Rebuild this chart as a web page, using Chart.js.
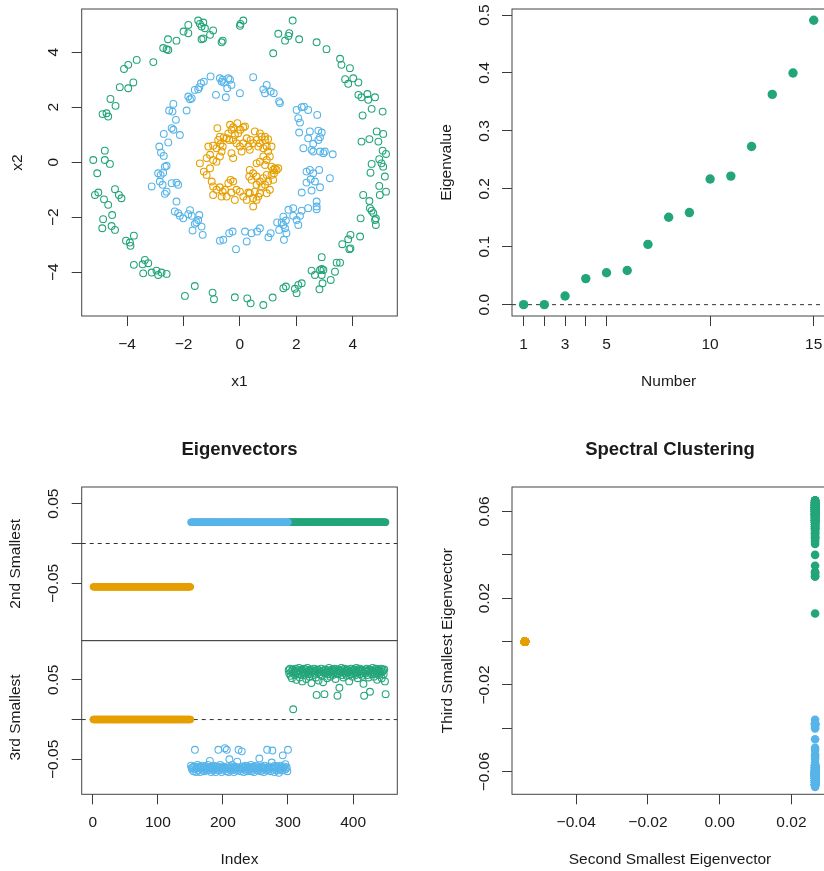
<!DOCTYPE html>
<html>
<head>
<meta charset="utf-8">
<script src="https://cdn.jsdelivr.net/npm/chart.js@4.4.0/dist/chart.umd.min.js"></script>
<style>
  html, body { margin: 0; padding: 0; background: #fff; overflow: hidden; }
  body { width: 824px; height: 871px; position: relative; }
  canvas { position: absolute; }
</style>
</head>
<body>
<canvas id="rings" width="400" height="400" style="left:0;top:0"></canvas>
<canvas id="eigval" width="420" height="400" style="left:412px;top:0"></canvas>
<canvas id="vec2" width="400" height="211" style="left:0;top:430px"></canvas>
<canvas id="vec3" width="400" height="231" style="left:0;top:640px"></canvas>
<canvas id="spectral" width="420" height="441" style="left:412px;top:430px"></canvas>
<script>
// --- data ---
const greenRing = [
  [-1.48,5.15],[-1.42,5.03],[-1.30,5.08],[-1.36,4.93],[-1.24,4.87],[-1.83,4.99],[-2.00,4.75],[-1.83,4.69],[-0.95,4.79],[-1.06,4.63],
  [-1.30,4.50],[-1.36,4.47],[-0.61,4.42],[-0.65,4.36],[0.02,5.03],[0.12,5.15],[0.00,4.96],[-2.25,4.42],[-2.55,4.47],[-2.72,4.15],
  [-2.60,4.11],[-2.54,4.08],[-3.07,3.64],[-3.66,3.72],[-3.96,3.54],[-4.11,3.39],[-3.78,2.90],[-3.96,2.69],[-4.26,2.73],[-4.59,2.30],
  [-4.41,2.05],[-4.87,1.75],[-4.73,1.78],[-4.67,1.66],[-4.79,0.42],[-4.79,0.08],[-4.61,-0.06],[-5.20,0.08],[-5.06,-0.40],[-5.14,-1.19],
  [-5.02,-1.10],[-4.43,-0.98],[-4.29,-1.19],[-4.20,-1.31],[-4.82,-1.35],[-4.67,-1.55],[-4.53,-1.92],[-4.85,-2.07],[-4.88,-2.40],[-4.55,-2.32],
  [-4.43,-2.46],[-4.04,-2.85],[-3.76,-2.67],[-3.88,-3.04],[-3.90,-2.92],[-3.76,-3.73],[-3.37,-3.55],[-3.45,-3.71],[-3.25,-3.67],[-3.43,-4.04],
  [-3.13,-4.01],[-2.96,-3.94],[-2.90,-4.10],[-2.78,-4.01],[-2.60,-4.06],[-1.60,-4.50],[-1.95,-4.86],[-0.97,-4.74],[-0.92,-4.98],[-0.18,-4.91],
  [0.26,-4.95],[0.38,-5.13],[0.83,-5.19],[1.16,-4.92],[1.54,-4.58],[1.63,-4.52],[1.95,-4.60],[2.01,-4.76],[2.07,-4.46],[2.19,-4.40],
  [2.54,-3.94],[2.66,-4.10],[2.82,-4.62],[2.84,-3.92],[2.90,-3.88],[2.96,-3.92],[2.90,-4.10],[2.93,-4.40],[2.90,-3.45],[3.22,-4.28],
  [3.37,-3.98],[3.43,-3.65],[3.55,-3.65],[3.63,-2.98],[3.84,-2.80],[3.92,-2.64],[3.88,-3.16],[3.92,-3.13],[4.26,-2.70],[4.28,-2.04],
  [4.37,-1.19],[4.59,-1.41],[4.61,-1.67],[4.67,-1.76],[4.73,-1.85],[4.82,-2.04],[4.79,-2.10],[4.82,-2.28],[4.94,-0.86],[4.96,-1.19],
  [5.18,-1.07],[4.67,-0.06],[4.63,-0.38],[4.94,0.11],[5.02,-0.04],[5.08,-0.16],[5.14,-0.52],[5.18,0.30],[5.06,0.42],[4.31,0.75],
  [4.59,0.84],[4.85,1.12],[4.91,0.75],[5.08,1.03],[4.35,1.70],[4.67,1.94],[5.06,1.84],[4.20,2.45],[4.31,2.36],[4.52,2.48],
  [4.79,2.36],[4.55,2.27],[3.73,3.02],[3.84,2.85],[4.02,3.05],[4.20,2.90],[3.55,3.76],[3.60,3.54],[3.90,3.42],[3.07,4.11],
  [2.72,4.36],[2.10,4.47],[1.75,4.69],[1.60,4.42],[1.72,4.59],[1.36,4.67],[1.87,5.15],[1.18,3.96]
];
const blueRing = [
  [-1.04,3.12],[-1.28,2.93],[-1.38,2.87],[-1.44,2.73],[-1.48,2.65],[-1.60,2.63],[-0.65,2.93],[-0.71,3.05],[-0.61,3.00],[-0.57,2.90],
  [-0.41,3.05],[-0.35,3.00],[-0.30,2.81],[-0.45,2.69],[-0.50,2.36],[-0.85,2.45],[0.00,2.51],[0.47,3.09],[0.83,2.65],[0.95,2.81],
  [0.89,2.51],[1.09,2.57],[1.20,2.51],[1.39,2.21],[1.42,2.15],[-1.83,2.39],[-1.77,2.29],[-1.71,2.33],[-2.36,2.12],[-2.51,1.88],
  [-2.39,1.84],[-2.27,1.54],[-1.89,1.88],[-2.42,1.24],[-2.36,1.18],[-2.70,1.03],[-2.13,0.99],[-2.54,0.72],[-2.86,0.57],[-2.80,0.35],
  [-2.70,0.23],[-2.60,-0.13],[-2.66,-0.16],[-2.90,-0.40],[-2.81,-0.46],[-2.84,-0.70],[-2.72,-0.38],[-2.74,-0.82],[-3.13,-0.88],[-2.42,-0.76],
  [-2.25,-0.74],[-2.19,-0.82],[-2.60,-1.07],[-2.66,-1.15],[-2.25,-1.43],[-2.31,-1.79],[-2.19,-1.85],[-2.13,-1.95],[-2.01,-2.04],[-1.83,-1.89],
  [-1.77,-1.74],[-1.71,-1.95],[-1.44,-1.92],[-1.48,-2.10],[-1.60,-2.24],[-1.54,-2.19],[-1.36,-2.34],[-1.32,-2.64],[-1.68,-2.48],[-0.71,-2.85],
  [-0.59,-2.82],[-0.38,-2.58],[-0.26,-2.52],[-0.14,-3.16],[0.18,-2.52],[0.24,-2.88],[0.41,-2.58],[0.61,-2.52],[0.71,-2.40],[1.01,-2.73],
  [1.09,-2.58],[1.39,-2.46],[1.32,-2.19],[1.54,-1.98],[1.63,-2.12],[1.54,-2.28],[1.60,-2.40],[1.65,-2.58],[1.56,-2.82],[1.48,-2.19],
  [1.72,-1.73],[1.89,-1.67],[1.89,-1.95],[2.01,-2.10],[2.07,-2.28],[2.13,-1.95],[2.19,-1.76],[2.42,-1.67],[2.72,-1.43],[2.72,-1.61],
  [2.72,-1.71],[2.19,-1.10],[2.36,-0.74],[2.54,-1.03],[2.66,-0.70],[2.84,-0.91],[3.19,-0.58],[2.36,-0.34],[2.48,-0.28],[2.60,-0.40],
  [2.81,-0.28],[2.51,-0.62],[2.25,0.51],[2.54,0.45],[2.60,0.39],[2.84,0.39],[2.96,0.33],[3.01,0.39],[3.29,0.29],[2.60,0.67],
  [2.78,0.81],[2.84,0.91],[2.90,1.08],[2.42,0.87],[2.48,1.12],[2.78,1.15],[2.10,1.08],[2.13,1.44],[2.07,1.60],[2.01,1.90],
  [2.19,2.00],[2.27,2.02],[2.42,1.90],[2.74,1.72]
];
const orangeCore = [
  [-0.80,1.24],[-0.71,0.93],[-0.77,0.81],[-0.69,0.66],[-0.61,0.57],[-0.83,0.51],[-0.95,0.60],[-1.12,0.57],[-1.06,0.27],[-1.18,0.15],
  [-1.42,-0.04],[-1.28,-0.34],[-1.18,-0.46],[-1.06,-0.22],[-0.95,0.08],[-0.83,0.02],[-0.71,0.21],[-0.65,0.39],[-1.00,-0.70],[-0.95,-0.88],
  [-0.95,-1.19],[-0.83,-1.00],[-0.71,-0.91],[-0.61,-1.07],[-0.65,-1.25],[-0.47,-1.25],[-0.53,-1.00],[-0.41,-0.76],[-0.33,-0.64],[-0.24,-0.70],
  [-0.12,-1.00],[-0.30,-1.10],[-0.18,-1.37],[0.00,-1.07],[0.12,-1.25],[0.24,-1.37],[0.35,-1.13],[0.47,-1.31],[0.59,-1.37],[0.65,-1.25],
  [0.47,-1.61],[0.30,-1.10],[0.35,-0.28],[0.47,-0.40],[0.33,-0.52],[0.41,-0.64],[0.59,-0.52],[0.71,-0.70],[0.83,-0.58],[0.95,-0.46],
  [0.89,-0.82],[0.77,-0.88],[0.59,-0.82],[0.53,-1.07],[0.71,-1.13],[0.95,-1.13],[1.06,-1.00],[1.00,-0.70],[1.12,-0.16],[1.18,-0.28],
  [1.24,-0.22],[1.30,-0.28],[1.21,-0.40],[1.36,-0.22],[1.18,-0.64],[1.12,-0.46],[0.59,-0.04],[0.71,0.02],[0.83,0.21],[0.95,0.08],
  [0.89,-0.10],[1.06,0.21],[1.00,0.39],[0.95,0.57],[1.12,0.57],[0.83,0.51],[0.71,0.69],[0.59,0.81],[0.77,0.93],[0.89,0.81],
  [0.65,0.57],[0.53,1.12],[0.71,1.05],[0.89,0.93],[1.00,0.84],[0.47,0.69],[0.35,0.45],[0.38,0.81],[0.24,0.87],[0.12,0.69],
  [0.30,0.57],[-0.24,1.27],[-0.09,1.42],[0.02,1.18],[0.12,1.27],[0.18,1.30],[-0.06,1.05],[-0.18,0.99],[-0.35,1.36],[-0.30,1.18],
  [-0.41,1.05],[-0.47,0.87],[-0.24,0.81],[-0.12,0.69],[0.00,0.57],[0.06,0.39],[-0.30,0.33],[-0.24,0.15],[-0.38,0.81],[-0.57,0.90]
];

const eigNumber = [1, 2, 3, 4, 5, 6, 7, 8, 9, 10, 11, 12, 13, 14, 15];
const eigValue = [0, 0, 0.015, 0.045, 0.055, 0.059, 0.104, 0.151, 0.159, 0.217, 0.222, 0.273, 0.363, 0.400, 0.491];

// eigenvector entries: orange = obs 1-150, blue = 151-300, green = 301-450
const ev2Orange = Array(150).fill(-0.0543);
const ev2Blue = Array(150).fill(0.0266);
const ev2Green = Array(150).fill(0.0266);
const ev3Orange = Array(150).fill(0);
const ev3Blue = [
  -0.058,-0.061,-0.063,-0.060,-0.065,-0.059,-0.038,-0.062,-0.066,-0.060,
  -0.057,-0.064,-0.061,-0.059,-0.066,-0.062,-0.060,-0.058,-0.063,-0.061,
  -0.065,-0.060,-0.062,-0.059,-0.064,-0.061,-0.057,-0.063,-0.060,-0.052,
  -0.062,-0.066,-0.059,-0.061,-0.064,-0.058,-0.062,-0.060,-0.066,-0.063,
  -0.059,-0.061,-0.038,-0.064,-0.060,-0.057,-0.062,-0.066,-0.061,-0.059,
  -0.063,-0.060,-0.036,-0.062,-0.065,-0.038,-0.059,-0.061,-0.066,-0.050,
  -0.062,-0.064,-0.060,-0.057,-0.063,-0.061,-0.066,-0.059,-0.062,-0.060,
  -0.064,-0.053,-0.061,-0.038,-0.063,-0.060,-0.065,-0.062,-0.040,-0.059,
  -0.061,-0.066,-0.060,-0.063,-0.058,-0.062,-0.065,-0.059,-0.061,-0.064,
  -0.060,-0.062,-0.057,-0.065,-0.061,-0.063,-0.059,-0.066,-0.062,-0.060,
  -0.058,-0.063,-0.061,-0.064,-0.060,-0.049,-0.062,-0.065,-0.059,-0.061,
  -0.063,-0.060,-0.066,-0.058,-0.062,-0.061,-0.064,-0.038,-0.060,-0.063,
  -0.059,-0.062,-0.065,-0.061,-0.054,-0.039,-0.063,-0.060,-0.066,-0.058,
  -0.062,-0.060,-0.064,-0.059,-0.061,-0.067,-0.063,-0.058,-0.062,-0.060,
  -0.064,-0.045,-0.061,-0.059,-0.063,-0.056,-0.062,-0.060,-0.065,-0.038
];
const ev3Green = [
  0.062,0.058,0.064,0.055,0.060,0.052,0.063,0.013,0.059,0.061,
  0.056,0.064,0.050,0.060,0.062,0.057,0.065,0.053,0.061,0.059,
  0.063,0.048,0.060,0.056,0.064,0.058,0.062,0.051,0.060,0.065,
  0.057,0.061,0.054,0.063,0.059,0.046,0.062,0.060,0.056,0.064,
  0.058,0.061,0.053,0.031,0.063,0.059,0.049,0.062,0.057,0.060,
  0.064,0.055,0.061,0.047,0.059,0.032,0.063,0.058,0.060,0.052,
  0.062,0.057,0.065,0.060,0.054,0.061,0.059,0.063,0.056,0.062,
  0.060,0.064,0.051,0.058,0.062,0.030,0.057,0.063,0.040,0.061,
  0.059,0.065,0.056,0.062,0.053,0.060,0.064,0.058,0.061,0.055,
  0.063,0.059,0.062,0.048,0.060,0.057,0.064,0.061,0.054,0.062,
  0.058,0.063,0.060,0.056,0.065,0.059,0.052,0.062,0.060,0.064,
  0.057,0.061,0.063,0.055,0.059,0.045,0.030,0.062,0.058,0.060,
  0.064,0.056,0.061,0.053,0.063,0.035,0.059,0.062,0.057,0.065,
  0.060,0.054,0.062,0.058,0.064,0.061,0.050,0.059,0.063,0.056,
  0.061,0.059,0.064,0.052,0.060,0.062,0.057,0.063,0.048,0.032
];

// tick positions / labels
const ringTicks = [-4, -2, 0, 2, 4];
const ringLabels = ['\u22124', '\u22122', '0', '2', '4'];
const eigXTicks = [1, 2, 3, 4, 5, 10, 15];
const eigXLabels = ['1', '', '3', '', '5', '10', '15'];
const eigYTicks = [0, 0.1, 0.2, 0.3, 0.4, 0.5];
const eigYLabels = ['0.0', '0.1', '0.2', '0.3', '0.4', '0.5'];
const vecYTicks = [-0.05, 0, 0.05];
const vecYLabels = ['\u22120.05', '', '0.05'];
const indexTicks = [0, 100, 200, 300, 400];
const indexLabels = ['0', '100', '200', '300', '400'];
const specXTicks = [-0.04, -0.02, 0, 0.02];
const specXLabels = ['\u22120.04', '\u22120.02', '0.00', '0.02'];
const specYTicks = [-0.06, -0.04, -0.02, 0, 0.02, 0.04, 0.06];
const specYLabels = ['\u22120.06', '', '\u22120.02', '', '0.02', '', '0.06'];

// --- styling ---
const ORANGE = '#E69F00', BLUE = '#56B4E9', GREEN = '#23A57A';
const INK = '#1a1a1a', TICK = '#3a3a3a';
const FAMILY = "'Liberation Sans', Arial, Helvetica, sans-serif";
const FS = 15.5;

// box, dashed zero line and R-style rotated y labels
const rFrame = {
  id: 'rFrame',
  beforeDatasetsDraw(chart, args, opts) {
    if (opts.hline === undefined) return;
    const {ctx, chartArea: a} = chart;
    const y = chart.scales.y.getPixelForValue(opts.hline);
    ctx.save();
    ctx.strokeStyle = '#333';
    ctx.lineWidth = 1;
    ctx.setLineDash([4, 4]);
    ctx.beginPath();
    ctx.moveTo(a.left, y);
    ctx.lineTo(a.right, y);
    ctx.stroke();
    ctx.restore();
  },
  afterDraw(chart) {
    const {ctx, chartArea: a} = chart;
    ctx.save();
    ctx.strokeStyle = '#444';
    ctx.lineWidth = 1;
    ctx.strokeRect(a.left, a.top, a.right - a.left, a.bottom - a.top);
    const ys = chart.scales.y;
    ctx.fillStyle = INK;
    ctx.font = FS + 'px ' + FAMILY;
    ctx.textAlign = 'center';
    ctx.textBaseline = 'middle';
    ys.ticks.forEach(t => {
      if (!t.label) return;
      ctx.save();
      ctx.translate(a.left - 27.5, ys.getPixelForValue(t.value));
      ctx.rotate(-Math.PI / 2);
      ctx.fillText(t.label, 0, 0);
      ctx.restore();
    });
    ctx.restore();
  }
};

function axisX(min, max, ticks, labels, title, boxH, titlePad) {
  return {
    type: 'linear', position: 'bottom', min: min, max: max,
    afterBuildTicks: s => { s.ticks = ticks.map(v => ({value: v})); },
    afterFit: s => { s.height = boxH; },
    ticks: { callback: (v, i) => labels[i], autoSkip: false, maxRotation: 0, minRotation: 0,
             padding: 9.5, color: INK, font: {family: FAMILY, size: FS} },
    grid: { drawOnChartArea: false, drawTicks: true, tickLength: 10, color: TICK, lineWidth: 1 },
    border: { display: false },
    title: { display: true, text: title, color: INK,
             font: {family: FAMILY, size: FS, lineHeight: 1}, padding: {top: 0, bottom: titlePad} }
  };
}

function axisY(min, max, ticks, labels, title, boxW, titlePad) {
  return {
    type: 'linear', position: 'left', min: min, max: max,
    afterBuildTicks: s => { s.ticks = ticks.map(v => ({value: v})); },
    afterFit: s => { s.width = boxW; },
    ticks: { display: false, callback: (v, i) => labels[i] },
    grid: { drawOnChartArea: false, drawTicks: true, tickLength: 10, color: TICK, lineWidth: 1 },
    border: { display: false },
    title: { display: true, text: title, color: INK,
             font: {family: FAMILY, size: FS, lineHeight: 1}, padding: {top: titlePad, bottom: 0} }
  };
}

function hiddenX(min, max) {
  return { type: 'linear', display: false, min: min, max: max };
}

function openPts(points, color) {
  return { data: points, pointStyle: 'circle', pointRadius: 3.4, borderWidth: 1.1,
           pointBackgroundColor: 'rgba(0,0,0,0)', pointBorderColor: color, showLine: false };
}
function solidPts(points, color, r) {
  return { data: points, pointStyle: 'circle', pointRadius: r, borderWidth: 0,
           pointBackgroundColor: color, pointBorderColor: color, showLine: false };
}

function chartTitle(text) {
  return { display: true, text: text, color: INK, fullSize: false,
           font: {family: FAMILY, size: 18.5, weight: 'bold', lineHeight: 1},
           padding: {top: 10.75, bottom: 27.75} };
}

function baseOptions(extra) {
  return Object.assign({
    responsive: false, animation: false, events: [],
  }, extra);
}

function pad(top, right, bottom) {
  return { autoPadding: false, padding: {top: top, right: right, left: 0, bottom: bottom} };
}

const pairs = arr => arr.map(p => ({x: p[0], y: p[1]}));
const idxOrange = ev2Orange.map((v, i) => i + 1);
const idxBlue = ev2Blue.map((v, i) => i + 151);
const idxGreen = ev2Green.map((v, i) => i + 301);
const zip = (xs, ys) => xs.map((x, i) => ({x: x, y: ys[i]}));

// top left: the three rings
new Chart(document.getElementById('rings'), {
  type: 'scatter',
  data: { datasets: [
    openPts(pairs(greenRing), GREEN),
    openPts(pairs(blueRing), BLUE),
    openPts(pairs(orangeCore), ORANGE)
  ]},
  options: baseOptions({
    layout: pad(9, 2.7, 0),
    scales: {
      x: axisX(-5.61, 5.58, ringTicks, ringLabels, 'x1', 84, 10.5),
      y: axisY(-5.59, 5.57, ringTicks, ringLabels, 'x2', 81.7, 10.25)
    },
    plugins: { legend: {display: false}, tooltip: {enabled: false}, rFrame: {} }
  }),
  plugins: [rFrame]
});

// top right: eigenvalues
new Chart(document.getElementById('eigval'), {
  type: 'scatter',
  data: { datasets: [ solidPts(zip(eigNumber, eigValue), GREEN, 4.7) ] },
  options: baseOptions({
    layout: pad(9, 4, 0),
    scales: {
      x: axisX(0.44, 15.56, eigXTicks, eigXLabels, 'Number', 84, 10.5),
      y: axisY(-0.0196, 0.5105, eigYTicks, eigYLabels, 'Eigenvalue', 100, 27.25)
    },
    plugins: { legend: {display: false}, tooltip: {enabled: false}, rFrame: {hline: 0} }
  }),
  plugins: [rFrame]
});

// bottom left, upper panel: 2nd smallest eigenvector
new Chart(document.getElementById('vec2'), {
  type: 'scatter',
  data: { datasets: [
    solidPts(zip(idxOrange, ev2Orange), ORANGE, 3.7),
    solidPts(zip(idxBlue, ev2Blue), BLUE, 3.7),
    solidPts(zip(idxGreen, ev2Green), GREEN, 3.7)
  ]},
  options: baseOptions({
    layout: pad(0, 2.7, 0.3),
    scales: {
      x: hiddenX(-16.96, 467.96),
      y: axisY(-0.1218, 0.0708, vecYTicks, vecYLabels, '2nd Smallest', 81.7, 8.25)
    },
    plugins: { legend: {display: false}, tooltip: {enabled: false},
               title: chartTitle('Eigenvectors'), rFrame: {hline: 0} }
  }),
  plugins: [rFrame]
});

// bottom left, lower panel: 3rd smallest eigenvector
new Chart(document.getElementById('vec3'), {
  type: 'scatter',
  data: { datasets: [
    solidPts(zip(idxOrange, ev3Orange), ORANGE, 3.7),
    openPts(zip(idxBlue, ev3Blue), BLUE),
    openPts(zip(idxGreen, ev3Green), GREEN)
  ]},
  options: baseOptions({
    layout: pad(0.7, 2.7, 0),
    scales: {
      x: axisX(-16.96, 467.96, indexTicks, indexLabels, 'Index', 76.7, 3.25),
      y: axisY(-0.094, 0.0992, vecYTicks, vecYLabels, '3rd Smallest', 81.7, 8.25)
    },
    plugins: { legend: {display: false}, tooltip: {enabled: false}, rFrame: {hline: 0} }
  }),
  plugins: [rFrame]
});

// bottom right: spectral clustering embedding
new Chart(document.getElementById('spectral'), {
  type: 'scatter',
  data: { datasets: [
    solidPts(zip(ev2Orange, ev3Orange), ORANGE, 4.3),
    solidPts(zip(ev2Blue, ev3Blue), BLUE, 4.3),
    solidPts(zip(ev2Green, ev3Green), GREEN, 4.3)
  ]},
  options: baseOptions({
    layout: pad(0, 4, 0),
    scales: {
      x: axisX(-0.0579, 0.0302, specXTicks, specXLabels, 'Second Smallest Eigenvector', 76.7, 3.25),
      y: axisY(-0.0704, 0.0713, specYTicks, specYLabels, 'Third Smallest Eigenvector', 100, 28.25)
    },
    plugins: { legend: {display: false}, tooltip: {enabled: false},
               title: chartTitle('Spectral Clustering'), rFrame: {} }
  }),
  plugins: [rFrame]
});
</script>
</body>
</html>
